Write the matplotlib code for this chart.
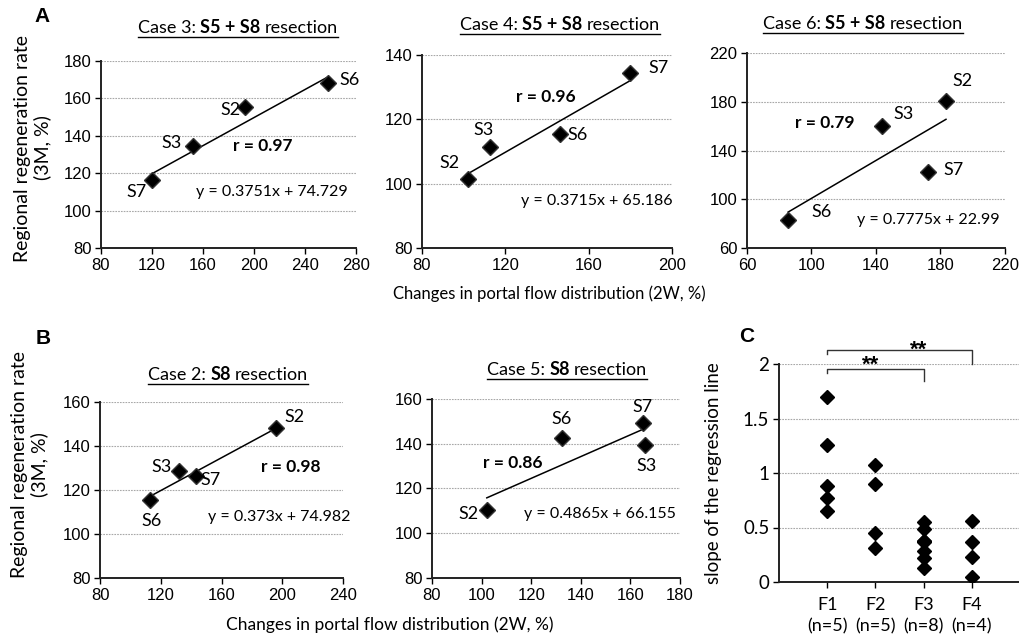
import numpy as np
import matplotlib
matplotlib.use('Agg')
import matplotlib.pyplot as plt
from matplotlib.lines import Line2D

plt.rcParams['font.family'] = ['Lato', 'DejaVu Sans']

W, H = 1020, 641

# ---- data ----
# Case 3: S5 + S8 resection
c3_seg = ['S7', 'S3', 'S2', 'S6']
c3_x = [119.8, 152.1, 193.0, 257.7]
c3_y = [116.3, 134.6, 155.3, 168.1]
c3_fit = (0.3751, 74.729)
c3_r = 0.97

# Case 4: S5 + S8 resection
c4_seg = ['S2', 'S3', 'S6', 'S7']
c4_x = [102.1, 112.8, 146.1, 180.0]
c4_y = [101.5, 111.4, 115.3, 134.3]
c4_fit = (0.3715, 65.186)
c4_r = 0.96

# Case 6: S5 + S8 resection
c6_seg = ['S6', 'S3', 'S2', 'S7']
c6_x = [85.5, 144.0, 183.4, 172.0]
c6_y = [83.3, 160.0, 180.5, 122.2]
c6_fit = (0.7775, 22.99)
c6_r = 0.79

# Case 2: S8 resection
c2_seg = ['S6', 'S3', 'S7', 'S2']
c2_x = [113.0, 132.0, 143.0, 196.0]
c2_y = [115.5, 128.6, 126.5, 148.2]
c2_fit = (0.373, 74.982)
c2_r = 0.98

# Case 5: S8 resection
c5_seg = ['S2', 'S6', 'S7', 'S3']
c5_x = [102.1, 132.5, 165.2, 166.0]
c5_y = [110.3, 142.4, 149.1, 139.3]
c5_fit = (0.4865, 66.155)
c5_r = 0.86

# Panel C: slope of the regression line per group
grp_names = ['F1\n(n=5)', 'F2\n(n=5)', 'F3\n(n=8)', 'F4\n(n=4)']
f1_slopes = [1.70, 1.26, 0.88, 0.77, 0.65]
f2_slopes = [1.07, 0.90, 0.45, 0.31]
f3_slopes = [0.55, 0.49, 0.3751, 0.3715, 0.373, 0.28, 0.22, 0.13]
f4_slopes = [0.56, 0.37, 0.23, 0.05]

fig = plt.figure(figsize=(W / 100, H / 100), dpi=100)


def px_rect(l, t, r, b):
    # pixel box (from top-left) -> figure fraction rect
    return [l / W, 1 - b / H, (r - l) / W, (b - t) / H]


def style_axes(ax, xlim, ylim, xticks, yticks, tickfont='Liberation Sans'):
    ax.set_xlim(*xlim)
    ax.set_ylim(*ylim)
    ax.set_xticks(xticks)
    ax.set_yticks(yticks)
    for s in ['top', 'right']:
        ax.spines[s].set_visible(False)
    for s in ['left', 'bottom']:
        ax.spines[s].set_linewidth(1.4)
        ax.spines[s].set_color('#222222')
    ax.yaxis.grid(True, color='#a8a8a8', lw=0.8, ls=(0, (1.5, 1)))
    ax.set_axisbelow(True)
    ax.tick_params(direction='out', length=4, width=1, labelsize=12, pad=3)
    for lb in ax.get_xticklabels() + ax.get_yticklabels():
        lb.set_family(tickfont)


def rich_title(cx, base_y, parts, size=12.5):
    # parts: list of (text, weight); centered at cx (px), baseline at base_y (px from top), underlined
    r = fig.canvas.get_renderer()
    gap = 4.5
    objs = []
    for s, w in parts:
        t = fig.text(0, 1 - base_y / H, s, fontsize=size, fontweight=w, va='baseline', ha='left')
        objs.append(t)
    widths = [t.get_window_extent(r).width for t in objs]
    total = sum(widths) + gap * (len(objs) - 1)
    x = cx - total / 2
    for t, w in zip(objs, widths):
        t.set_x(x / W)
        x += w + gap
    y_ul = 1 - (base_y + 3.5) / H
    fig.add_artist(Line2D([(cx - total / 2) / W, (cx + total / 2) / W], [y_ul, y_ul],
                          transform=fig.transFigure, color='black', lw=1))


def scatter_panel(rect, xs, ys, segs, offs, fit, r, r_pos, eq_pos, xlim, ylim, xticks, yticks):
    ax = fig.add_axes(rect)
    style_axes(ax, xlim, ylim, xticks, yticks)
    xx = np.array([min(xs), max(xs)])
    ax.plot(xx, fit[0] * xx + fit[1], color='black', lw=1.1, zorder=2)
    ax.plot(xs, ys, 'D', color='black', ms=8.5, mec='#333333', zorder=3)
    for x, y, s, o in zip(xs, ys, segs, offs):
        ax.annotate(s, (x, y), xytext=o, textcoords='offset pixels', ha='center', va='center',
                    fontsize=13)
    ax.text(r_pos[0], r_pos[1], 'r = %.2f' % r, fontsize=12.5, fontweight='bold', ha='center', va='center')
    ax.text(eq_pos[0], eq_pos[1], 'y = %sx + %s' % (fit[0], fit[1]), fontsize=11.5, ha='center', va='center')
    return ax


fig.canvas.draw()

# ---- panel A ----
scatter_panel(px_rect(101, 61, 356, 248), c3_x, c3_y, c3_seg,
              [(-15, -12), (-21, 3), (-15, -3), (22, 3)], c3_fit, c3_r,
              (207, 134.3), (213.7, 110.2), (80, 280), (80, 180),
              range(80, 281, 40), range(80, 181, 20))
rich_title(238, 33, [('Case 3:', 'normal'), ('S5 + S8', 'bold'), ('resection', 'normal')], size=13)

scatter_panel(px_rect(422, 55, 672, 248), c4_x, c4_y, c4_seg,
              [(-19, 16), (-7, 17), (18, -1), (28, 5)], c4_fit, c4_r,
              (139.2, 126.8), (164, 94.5), (80, 200), (80, 140),
              range(80, 201, 40), range(80, 141, 20))
rich_title(560, 30, [('Case 4:', 'normal'), ('S5 + S8', 'bold'), ('resection', 'normal')], size=13)

scatter_panel(px_rect(747, 53, 1005, 248), c6_x, c6_y, c6_seg,
              [(33, 8), (21, 12), (17, 20), (26, 2)], c6_fit, c6_r,
              (108.2, 162.7), (172.4, 83.3), (60, 220), (60, 220),
              range(60, 221, 40), range(60, 221, 40))
rich_title(863, 29, [('Case 6:', 'normal'), ('S5 + S8', 'bold'), ('resection', 'normal')], size=13)

fig.text(33 / W, 1 - 148 / H, 'Regional regeneration rate\n(3M, %)', rotation=90,
         ha='center', va='center', fontsize=14, linespacing=1.15)
fig.text(549 / W, 1 - 294 / H, 'Changes in portal flow distribution (2W, %)',
         ha='center', va='center', fontsize=12)

# ---- panel B ----
scatter_panel(px_rect(100, 402, 343, 578), c2_x, c2_y, c2_seg,
              [(1, -21), (-17, 4), (15, -4), (18, 11)], c2_fit, c2_r,
              (205.4, 130.6), (198, 107.9), (80, 240), (80, 160),
              range(80, 241, 40), range(80, 161, 20))
rich_title(228, 380, [('Case 2:', 'normal'), ('S8', 'bold'), ('resection', 'normal')], size=13)

scatter_panel(px_rect(432, 399, 680, 578), c5_x, c5_y, c5_seg,
              [(-18, -4), (-1, 19), (-1, 16), (1, -21)], c5_fit, c5_r,
              (112.7, 131.5), (147.8, 108.8), (80, 180), (80, 160),
              range(80, 181, 20), range(80, 161, 20))
rich_title(567, 375, [('Case 5:', 'normal'), ('S8', 'bold'), ('resection', 'normal')], size=13)

fig.text(30 / W, 1 - 465 / H, 'Regional regeneration rate\n(3M, %)', rotation=90,
         ha='center', va='center', fontsize=14, linespacing=1.15)
fig.text(390 / W, 1 - 625 / H, 'Changes in portal flow distribution (2W, %)',
         ha='center', va='center', fontsize=12.5)

# ---- panel C ----
axc = fig.add_axes(px_rect(779, 364, 1020, 582))
style_axes(axc, (0, 5), (0, 2), [1, 2, 3, 4], [0, 0.5, 1, 1.5, 2], tickfont='Lato')
axc.set_yticklabels(['0', '0.5', '1', '1.5', '2'])
axc.set_xticklabels(grp_names)
for lb in axc.get_xticklabels():
    lb.set_linespacing(1.35)
axc.tick_params(axis='x', labelsize=13, pad=7)
axc.tick_params(axis='y', labelsize=13.5)
for i, vals in enumerate([f1_slopes, f2_slopes, f3_slopes, f4_slopes]):
    axc.plot([i + 1] * len(vals), vals, 'D', color='black', ms=7.5, zorder=3)

# significance brackets
axc.plot([1, 1, 3, 3], [1.92, 1.954, 1.954, 1.84], color='#333333', lw=1, clip_on=False)
axc.plot([1, 1, 4, 4], [2.09, 2.125, 2.125, 2.0], color='#333333', lw=1, clip_on=False)
axc.text(1.9, 1.94, '**', ha='center', va='baseline', fontsize=16, fontweight='bold',
         family='Liberation Sans', clip_on=False)
axc.text(2.89, 2.08, '**', ha='center', va='baseline', fontsize=16, fontweight='bold',
         family='Liberation Sans', clip_on=False)

fig.text(714 / W, 1 - 473 / H, 'slope of the regression line', rotation=90,
         ha='center', va='center', fontsize=13.5)

# panel letters
fig.text(42 / W, 1 - 17 / H, 'A', fontsize=15, fontweight='bold', ha='center', va='center',
         family='Liberation Sans')
fig.text(43 / W, 1 - 339 / H, 'B', fontsize=15, fontweight='bold', ha='center', va='center',
         family='Liberation Sans')
fig.text(747 / W, 1 - 336 / H, 'C', fontsize=15, fontweight='bold', ha='center', va='center',
         family='Liberation Sans')

fig.savefig('out.png', dpi=100)
